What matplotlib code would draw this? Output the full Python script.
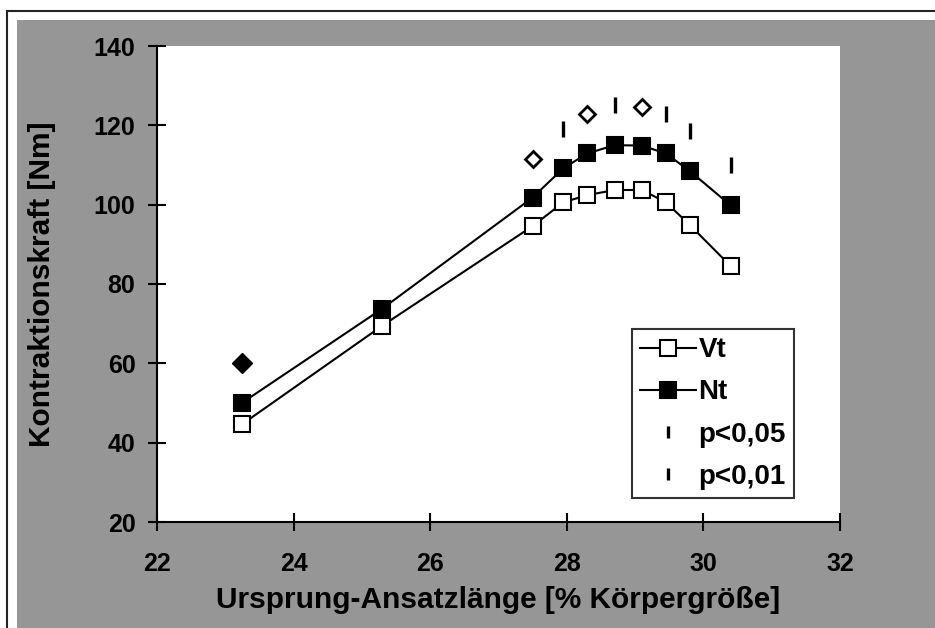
import matplotlib
matplotlib.use("Agg")
import matplotlib.pyplot as plt
from matplotlib.patches import Rectangle
from matplotlib.lines import Line2D

plt.rcParams['font.family'] = ['Liberation Sans', 'DejaVu Sans']
plt.rcParams['font.weight'] = 'bold'

# data
x_len = [23.25, 25.3, 27.5, 27.95, 28.3, 28.7, 29.1, 29.45, 29.8, 30.4]
vt_force = [44.7, 69.5, 94.6, 100.6, 102.4, 103.7, 103.7, 100.6, 94.9, 84.5]
nt_force = [50.1, 73.8, 101.8, 109.2, 112.9, 115.0, 114.9, 112.9, 108.5, 99.8]

sig05_x = [27.95, 28.7, 29.45, 29.8, 30.4]
sig05_y = [119.2, 125.1, 122.8, 118.6, 110.0]
sig01_x = [27.5, 28.3, 29.1]
sig01_y = [111.5, 122.9, 124.7]
sig_single_x = [23.25]
sig_single_y = [60.0]

x_ticks = [22, 24, 26, 28, 30, 32]
y_ticks = [20, 40, 60, 80, 100, 120, 140]

W, H = 935, 628
fig = plt.figure(figsize=(W / 100, H / 100), dpi=100, facecolor='white')

# outer frame and grey chart area
fig.patches.append(Rectangle((7 / W, -0.1), 1.2, 1.1 - 11 / H, transform=fig.transFigure,
                             facecolor='white', edgecolor='#222222', linewidth=1.5, zorder=-2))
fig.patches.append(Rectangle((17 / W, -0.1), 1.2, 1.1 - 20 / H, transform=fig.transFigure,
                             facecolor='#969696', edgecolor='none', zorder=-1))

ax = fig.add_axes([157 / W, 106 / H, 683 / W, 476 / H])
ax.set_zorder(1)
ax.set_facecolor('white')

ax.plot(x_len, vt_force, color='black', lw=1.5, marker='s', ms=11,
        mfc='white', mec='black', mew=1.5, zorder=3)
ax.plot(x_len, nt_force, color='black', lw=1.5, marker='s', ms=11,
        mfc='black', mec='black', mew=1.5, zorder=3)
ax.plot(sig05_x, sig05_y, ls='none', marker='|', ms=11, mew=2.4, color='black')
ax.plot(sig01_x, sig01_y, ls='none', marker='D', ms=8.5, mfc='white', mec='black', mew=2.0)
ax.plot(sig_single_x, sig_single_y, ls='none', marker='D', ms=10.5, mfc='black', mec='black')

ax.set_xlim(22, 32)
ax.set_ylim(20, 140)
ax.set_xticks(x_ticks)
ax.set_yticks(y_ticks)
for s in ['top', 'right']:
    ax.spines[s].set_visible(False)
for s in ['left', 'bottom']:
    ax.spines[s].set_linewidth(1.5)
ax.tick_params(direction='inout', length=13, width=1.5, labelsize=18)
ax.tick_params(axis='x', pad=15)
ax.tick_params(axis='y', pad=9)

ax.set_xlabel('Ursprung-Ansatzlänge [% Körpergröße]', fontsize=21.5, fontweight='bold')
ax.set_ylabel('Kontraktionskraft [Nm]', fontsize=21.5, fontweight='bold')
ax.xaxis.set_label_coords(0.5, -0.164)
ax.yaxis.set_label_coords(-0.168, 0.5)
ax.xaxis.label.set_va('center')
ax.yaxis.label.set_va('center')

handles = [
    Line2D([], [], color='black', lw=1.5, marker='s', ms=11, mfc='white', mec='black', mew=1.5),
    Line2D([], [], color='black', lw=1.5, marker='s', ms=11, mfc='black', mec='black', mew=1.5),
    Line2D([], [], ls='none', marker='|', ms=8, mew=2.4, color='black'),
    Line2D([], [], ls='none', marker='|', ms=8, mew=2.4, color='black'),
]
leg = ax.legend(handles, ['Vt', 'Nt', 'p<0,05', 'p<0,01'], loc='upper left',
                bbox_to_anchor=(0.695, 0.4055), borderaxespad=0, fontsize=20,
                frameon=True, fancybox=False, handlelength=2.0, handletextpad=0.1,
                labelspacing=0.58, borderpad=0.3)
leg.get_frame().set_edgecolor('black')
leg.get_frame().set_linewidth(1.5)

fig.savefig('out.png', dpi=100, facecolor='white')
